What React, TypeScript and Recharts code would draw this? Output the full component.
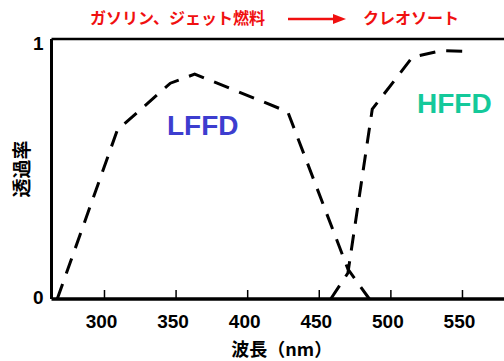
import { LineChart, Line, XAxis, YAxis, ReferenceLine, Label } from "recharts";

// wavelength (nm) / transmittance
const lffdWavelength = [267, 309, 346, 363, 428, 470, 485];
const lffdTransmittance = [0, 0.65, 0.83, 0.865, 0.72, 0.115, 0];
const hffdWavelength = [458, 470, 487, 515, 535, 555];
const hffdTransmittance = [0, 0.1, 0.73, 0.93, 0.955, 0.952];

const xTicks = [300, 350, 400, 450, 500, 550];
const yTicks = [0, 1];

const lffd = lffdWavelength.map((x, i) => ({ x, t: lffdTransmittance[i] }));
const hffd = hffdWavelength.map((x, i) => ({ x, t: hffdTransmittance[i] }));

const latin = "'Liberation Sans', Arial, sans-serif";
const cjk = "'Noto Sans CJK JP', sans-serif";

const XTick = ({ x, y, payload }: any) => (
  <g>
    <line x1={x} x2={x} y1={y} y2={y - 9} stroke="#000" strokeWidth={1.5} />
    <text
      x={x - 3}
      y={y + 29}
      textAnchor="middle"
      fontFamily={latin}
      fontWeight="bold"
      fontSize={19}
      fill="#000"
    >
      {payload.value}
    </text>
  </g>
);

const YTick = ({ x, y, payload }: any) => (
  <text
    x={x - 8}
    y={y + (payload.value === 1 ? 10.5 : 4.5)}
    textAnchor="end"
    fontFamily={latin}
    fontWeight="bold"
    fontSize={19}
    fill="#000"
  >
    {payload.value}
  </text>
);

const titleStyle = {
  position: "absolute" as const,
  top: 5,
  fontFamily: cjk,
  fontWeight: "bold",
  fontSize: 16,
  color: "#f01010",
  whiteSpace: "nowrap" as const,
};

const App = () => {
  return (
    <div
      style={{
        position: "fixed",
        left: 0,
        top: 0,
        width: 504,
        height: 361,
        background: "#fff",
      }}
    >
      <LineChart
        width={504}
        height={361}
        margin={{ top: 39, right: 0, bottom: 0, left: 0 }}
      >
        <XAxis
          dataKey="x"
          type="number"
          domain={[263, 579]}
          ticks={xTicks}
          allowDataOverflow
          height={62}
          tickSize={0}
          tickMargin={0}
          tickLine={false}
          axisLine={{ stroke: "#000", strokeWidth: 3.5 }}
          tick={<XTick />}
        >
          <Label
            value="波長（nm）"
            position="insideBottom"
            offset={5}
            dx={4}
            style={{ fontFamily: cjk, fontWeight: "bold", fontSize: 18, fill: "#000" }}
          />
        </XAxis>
        <YAxis
          type="number"
          domain={[0, 1]}
          ticks={yTicks}
          width={51.5}
          tickSize={0}
          tickMargin={0}
          tickLine={false}
          axisLine={{ stroke: "#000", strokeWidth: 3 }}
          tick={<YTick />}
        >
          <Label
            value="透過率"
            angle={-90}
            position="center"
            dx={-3}
            style={{ fontFamily: cjk, fontWeight: "bold", fontSize: 19, fill: "#000" }}
          />
        </YAxis>
        <ReferenceLine y={1} stroke="#000" strokeWidth={2.5} />
        <Line
          data={lffd}
          dataKey="t"
          type="linear"
          stroke="#000"
          strokeWidth={3}
          strokeDasharray="16 11"
          dot={false}
          isAnimationActive={false}
        />
        <Line
          data={hffd}
          dataKey="t"
          type="linear"
          stroke="#000"
          strokeWidth={3}
          strokeDasharray="16 11"
          dot={false}
          isAnimationActive={false}
        />
      </LineChart>

      {/* title: ガソリン、ジェット燃料 → クレオソート */}
      <span style={{ ...titleStyle, left: 90 }}>ガソリン、ジェット燃料</span>
      <svg
        style={{ position: "absolute", left: 288, top: 13 }}
        width={58}
        height={12}
      >
        <line x1={0} y1={6} x2={48} y2={6} stroke="#f01010" strokeWidth={2.5} />
        <polygon points="45,1 58,6 45,11" fill="#f01010" />
      </svg>
      <span style={{ ...titleStyle, left: 363 }}>クレオソート</span>

      <span
        style={{
          position: "absolute",
          left: 167,
          top: 110,
          fontFamily: latin,
          fontWeight: "bold",
          fontSize: 28,
          color: "#3d3dcf",
        }}
      >
        LFFD
      </span>
      <span
        style={{
          position: "absolute",
          left: 417,
          top: 88,
          fontFamily: latin,
          fontWeight: "bold",
          fontSize: 28,
          color: "#14c99a",
        }}
      >
        HFFD
      </span>
    </div>
  );
};

export default App;
